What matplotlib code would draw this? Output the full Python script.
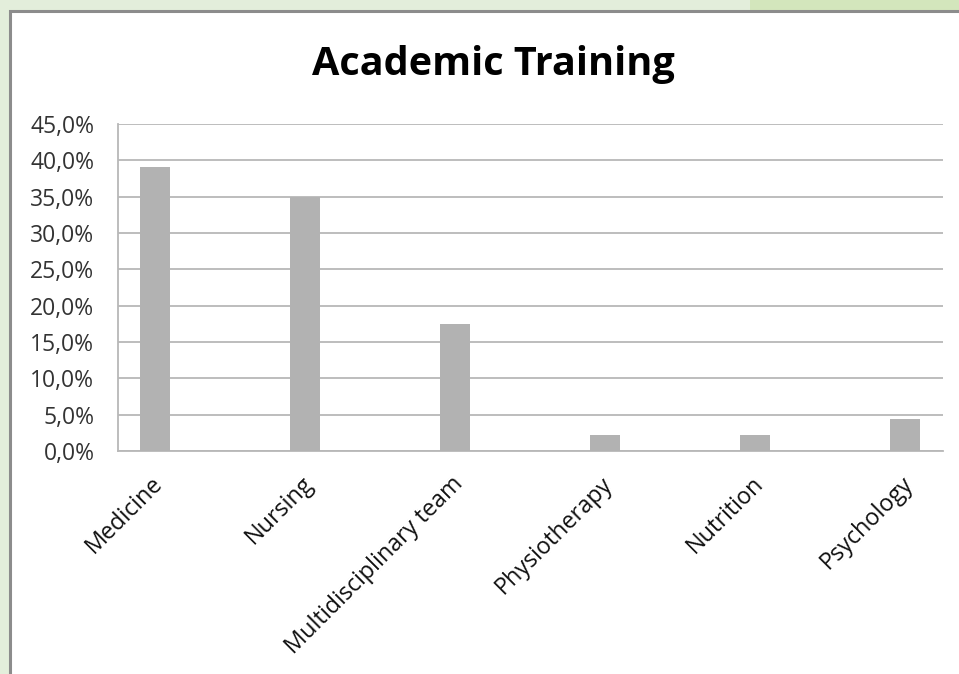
import matplotlib
matplotlib.use("Agg")
import matplotlib.pyplot as plt
import matplotlib.transforms as mtransforms
from matplotlib.patches import Rectangle
from matplotlib.ticker import FuncFormatter, MultipleLocator

categories = ["Medicine", "Nursing", "Multidisciplinary team", "Physiotherapy", "Nutrition", "Psychology"]
values = [39.1, 35.0, 17.5, 2.2, 2.2, 4.4]
title = "Academic Training"

plt.rcParams['font.family'] = ['Open Sans', 'DejaVu Sans']

W, H = 959, 674
fig = plt.figure(figsize=(W / 100, H / 100), dpi=100)
fig.patch.set_facecolor('#e3eedb')

# top-right green strip
fig.patches.append(Rectangle((750 / W, 1 - 11 / H), 1 - 750 / W, 11 / H, transform=fig.transFigure,
                             facecolor='#d3e6bc', edgecolor='none', zorder=0))
# white chart frame
fig.patches.append(Rectangle((10 / W, -0.01), 1.0, 1 - 11 / H + 0.01, transform=fig.transFigure,
                             facecolor='white', edgecolor='#8c8c8c', linewidth=2.2, zorder=1))

ax = fig.add_axes([118 / W, 1 - 451 / H, (943 - 118) / W, (451 - 124) / H])
ax.set_zorder(2)
ax.set_facecolor('none')
x = list(range(len(categories)))
ax.bar(x, values, width=0.2, color='#b2b2b2', zorder=3)
ax.set_xlim(-0.247, 5.253)
ax.set_ylim(0, 45)
ax.yaxis.set_major_locator(MultipleLocator(5))
ax.yaxis.set_major_formatter(FuncFormatter(lambda v, p: f"{v:.1f}".replace('.', ',') + "%"))
ax.grid(axis='y', color='#b8b8b8', linewidth=1.3, zorder=1)
for s in ['top', 'right']:
    ax.spines[s].set_visible(False)
for s in ['left', 'bottom']:
    ax.spines[s].set_color('#b8b8b8')
    ax.spines[s].set_linewidth(1.3)
ax.tick_params(axis='y', length=0, pad=17, labelsize=16.5, labelcolor='#333333')
ax.tick_params(axis='x', length=0, pad=15)
ax.set_xticks(x)
ax.set_xticklabels(categories, rotation=45, ha='right', rotation_mode='anchor', fontsize=16.8, color='#111111')
offset = mtransforms.ScaledTranslation(-4 / 100, 0, fig.dpi_scale_trans)
for lab in ax.get_xticklabels():
    lab.set_transform(lab.get_transform() + offset)

fig.text(493 / W, 1 - 64 / H, title, ha='center', va='center', fontsize=28.5, fontweight='bold', color='#000000')

fig.savefig('out.png', dpi=100, facecolor=fig.get_facecolor())
